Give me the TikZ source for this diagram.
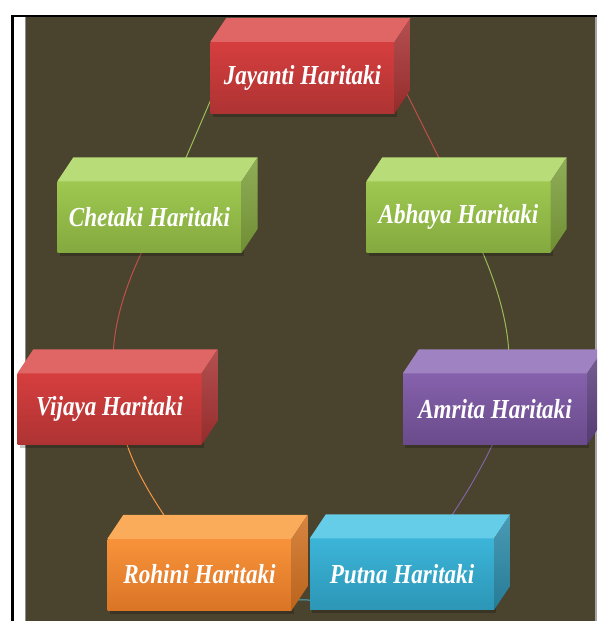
\documentclass[tikz,border=0pt]{standalone}
\usepackage{fontspec}
\setmainfont{Liberation Serif}
\usepackage{graphicx}
\definecolor{bg}{RGB}{74,67,45}
% red
\definecolor{rTop}{HTML}{E06666}\definecolor{rFT}{HTML}{D63E3E}\definecolor{rFB}{HTML}{AE3333}\definecolor{rSide}{HTML}{A63131}\definecolor{rLine}{HTML}{C0504D}
% green
\definecolor{gTop}{HTML}{B8DC78}\definecolor{gFT}{HTML}{9EC850}\definecolor{gFB}{HTML}{84A93F}\definecolor{gSide}{HTML}{7C9F3A}\definecolor{gLine}{HTML}{9BBB59}
% purple
\definecolor{pTop}{HTML}{9F82C2}\definecolor{pFT}{HTML}{8561AC}\definecolor{pFB}{HTML}{6A4B8B}\definecolor{pSide}{HTML}{5E4380}\definecolor{pLine}{HTML}{8064A2}
% blue
\definecolor{bTop}{HTML}{66CDE8}\definecolor{bFT}{HTML}{3CB5D9}\definecolor{bFB}{HTML}{2C96B6}\definecolor{bSide}{HTML}{2A89A7}\definecolor{bLine}{HTML}{4BACC6}
% orange
\definecolor{oTop}{HTML}{FBAC5A}\definecolor{oFT}{HTML}{F8923A}\definecolor{oFB}{HTML}{DA7526}\definecolor{oSide}{HTML}{CF6F1F}\definecolor{oLine}{HTML}{F79646}
\pgfdeclarelayer{backdrop}
\pgfdeclarelayer{links}
\pgfsetlayers{backdrop,links,main}
\tikzset{
  frontface/.style={minimum width=184pt, minimum height=71pt, inner sep=0pt, text=white, shading=axis},
  ring/.style={line width=1pt},
}
\newcommand\boxlabel[1]{\scalebox{0.84}[1]{\fontsize{27.5}{30}\selectfont\bfseries\itshape #1}}
\newcommand\cubenode[5]{%
  \fill[black, opacity=0.22] (#2-90,#3-33) rectangle (#2+94,#3+39);
  \node[frontface, top color=#4FT, bottom color=#4FB] (#1) at (#2,#3) {\boxlabel{#5}};
  \fill[#4Top] (#1.north west) -- ++(16,-24) -- ([shift={(16,-24)}]#1.north east) -- (#1.north east) -- cycle;
  \shade[top color=#4Side!85!white, bottom color=#4Side!90!black] (#1.north east) -- ++(16,-24) -- ([shift={(16,-24)}]#1.south east) -- (#1.south east) -- cycle;
}
\begin{document}
\begin{tikzpicture}[x=1pt, y=-1pt]
\useasboundingbox (0,0) rectangle (597,621);
\clip (0,0) rectangle (597,621);
\begin{pgfonlayer}{backdrop}
\fill[white] (0,0) rectangle (597,621);
\fill[bg] (25,17) rectangle (595,621);
\fill[black!35] (595,17) rectangle (597,621);
\draw[black!45, line width=0.6pt] (25,17) -- (25,621);
\draw[black, line width=2.5pt] (12.5,621) -- (12.5,16) -- (597,16);
\end{pgfonlayer}
% boxes
\cubenode{jay}{302.5}{77.5}{r}{Jayanti Haritaki}
\cubenode{che}{149.5}{217}{g}{Chetaki Haritaki}
\cubenode{abh}{458.5}{217}{g}{Abhaya Haritaki}
\cubenode{vij}{109.5}{409}{r}{Vijaya Haritaki}
\cubenode{amr}{495}{409}{p}{Amrita Haritaki}
\cubenode{roh}{199.5}{574.5}{o}{Rohini Haritaki}
\cubenode{put}{402}{574}{b}{Putna Haritaki}
% ring connectors (behind the boxes)
\begin{pgfonlayer}{links}
\draw[ring, rLine] ([shift={(101.5,10.5)}]jay.center) -- ([shift={(-13.5,-47)}]abh.center);
\draw[ring, gLine] ([shift={(18.5,23)}]abh.center) .. controls (493,274) and (509,320) .. ([shift={(14,-49)}]amr.center);
\draw[ring, pLine] ([shift={(5,19)}]amr.center) .. controls (490,452) and (470,490) .. ([shift={(43,-49)}]put.center);
\draw[ring, bLine] ([shift={(28,11)}]put.center) .. controls (380,605) and (240,605) .. ([shift={(-9.5,10.5)}]roh.center);
\draw[ring, oLine] ([shift={(-27.5,-47.5)}]roh.center) .. controls (150,495) and (130,462) .. ([shift={(13.5,21)}]vij.center);
\draw[ring, rLine] ([shift={(3.5,-47)}]vij.center) .. controls (113,320) and (128,280) .. ([shift={(-3.5,26)}]che.center);
\draw[ring, gLine] ([shift={(32.5,-50)}]che.center) -- ([shift={(-87.5,12.5)}]jay.center);
\end{pgfonlayer}
\end{tikzpicture}
\end{document}
